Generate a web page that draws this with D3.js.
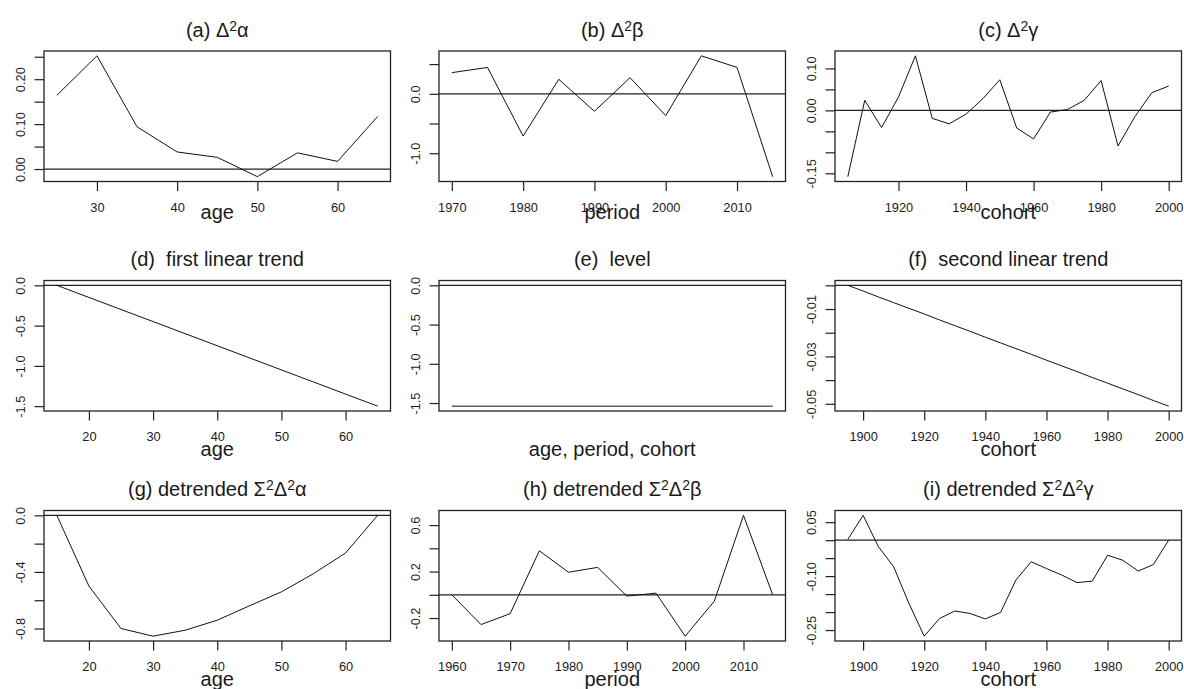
<!DOCTYPE html>
<html>
<head>
<meta charset="utf-8">
<script src="https://cdn.jsdelivr.net/npm/d3@7"></script>
<style>
  html, body { margin: 0; padding: 0; background: #fff; }
  svg { display: block; }
  text { font-family: "Liberation Sans", Arial, sans-serif; fill: #1a1a1a; }
</style>
</head>
<body>
<script>
// ---- data --------------------------------------------------------------
const ageShort   = [25, 30, 35, 40, 45, 50, 55, 60, 65];
const d2Alpha    = [0.164, 0.252, 0.094, 0.038, 0.026, -0.017, 0.036, 0.017, 0.117];

const periodShort = [1970, 1975, 1980, 1985, 1990, 1995, 2000, 2005, 2010, 2015];
const d2Beta      = [0.356, 0.444, -0.711, 0.244, -0.294, 0.272, -0.367, 0.639, 0.444, -1.394];

const cohortShort = [1905, 1910, 1915, 1920, 1925, 1930, 1935, 1940, 1945, 1950,
                     1955, 1960, 1965, 1970, 1975, 1980, 1985, 1990, 1995, 2000];
const d2Gamma     = [-0.158, 0.024, -0.041, 0.032, 0.130, -0.019, -0.032, -0.009, 0.028, 0.073,
                     -0.042, -0.068, -0.004, 0.002, 0.024, 0.071, -0.085, -0.015, 0.042, 0.058];

const ageFull     = [15, 20, 25, 30, 35, 40, 45, 50, 55, 60, 65];
const firstTrend  = [0, -0.15, -0.30, -0.45, -0.60, -0.75, -0.90, -1.05, -1.20, -1.35, -1.50];

const levelIndex  = [1, 2];
const levelValue  = [-1.54, -1.54];

const cohortFull  = [1895, 1900, 1905, 1910, 1915, 1920, 1925, 1930, 1935, 1940, 1945,
                     1950, 1955, 1960, 1965, 1970, 1975, 1980, 1985, 1990, 1995, 2000];
const secondTrend = [0, -0.0024, -0.0049, -0.0073, -0.0097, -0.0121, -0.0146, -0.0170, -0.0194, -0.0219, -0.0243,
                     -0.0267, -0.0291, -0.0316, -0.0340, -0.0364, -0.0389, -0.0413, -0.0437, -0.0461, -0.0486, -0.0510];

const detAlpha    = [0, -0.50, -0.80, -0.854, -0.812, -0.741, -0.640, -0.541, -0.412, -0.266, 0];

const periodFull  = [1960, 1965, 1970, 1975, 1980, 1985, 1990, 1995, 2000, 2005, 2010, 2015];
const detBeta     = [0, -0.256, -0.162, 0.379, 0.194, 0.236, -0.011, 0.014, -0.356, -0.054, 0.684, 0];

const detGamma    = [0.002, 0.069, -0.018, -0.074, -0.176, -0.267, -0.218, -0.197, -0.204, -0.219, -0.201,
                     -0.111, -0.060, -0.079, -0.097, -0.118, -0.114, -0.042, -0.056, -0.086, -0.068, 0];

// ---- tick values and labels (empty label = unlabelled tick) -------------
const xTicksAgeA   = [30, 40, 50, 60];
const xTicksAge    = [20, 30, 40, 50, 60];
const xTicksPerB   = [1970, 1980, 1990, 2000, 2010];
const xTicksPerH   = [1960, 1970, 1980, 1990, 2000, 2010];
const xTicksCohC   = [1920, 1940, 1960, 1980, 2000];
const xTicksCoh    = [1900, 1920, 1940, 1960, 1980, 2000];

const yTicksA  = [0, 0.05, 0.10, 0.15, 0.20, 0.25];
const yLabelsA = ["0.00", "", "0.10", "", "0.20", ""];
const yTicksB  = [-1.0, -0.5, 0, 0.5];
const yLabelsB = ["-1.0", "", "0.0", ""];
const yTicksC  = [-0.15, -0.10, -0.05, 0, 0.05, 0.10];
const yLabelsC = ["-0.15", "", "", "0.00", "", "0.10"];
const yTicksD  = [-1.5, -1.0, -0.5, 0];
const yLabelsD = ["-1.5", "-1.0", "-0.5", "0.0"];
const yTicksF  = [-0.05, -0.04, -0.03, -0.02, -0.01, 0];
const yLabelsF = ["-0.05", "", "-0.03", "", "-0.01", ""];
const yTicksG  = [-0.8, -0.6, -0.4, -0.2, 0];
const yLabelsG = ["-0.8", "", "-0.4", "", "0.0"];
const yTicksH  = [-0.2, 0, 0.2, 0.4, 0.6];
const yLabelsH = ["-0.2", "", "0.2", "", "0.6"];
const yTicksI  = [-0.25, -0.20, -0.15, -0.10, -0.05, 0, 0.05];
const yLabelsI = ["-0.25", "", "", "-0.10", "", "", "0.05"];

// ---- layout -------------------------------------------------------------
const W = 1184, H = 689;
const colLeft = [44, 439, 835];
const rowTop  = [51, 280.5, 510.5];
const boxW = 346.5, boxH = 130.5;
const xlabGap = [37, 45, 45];   // baseline of axis title below the box, per row

// title pieces: [text, superscript?]
const panels = [
  { row: 0, col: 0, title: [["(a) Δ"], ["2", true], ["α"]], x: ageShort, y: d2Alpha,
    xTicks: xTicksAgeA, yTicks: yTicksA, yLabels: yLabelsA, xlab: "age" },
  { row: 0, col: 1, title: [["(b) Δ"], ["2", true], ["β"]], x: periodShort, y: d2Beta,
    xTicks: xTicksPerB, yTicks: yTicksB, yLabels: yLabelsB, xlab: "period" },
  { row: 0, col: 2, title: [["(c) Δ"], ["2", true], ["γ"]], x: cohortShort, y: d2Gamma,
    xTicks: xTicksCohC, yTicks: yTicksC, yLabels: yLabelsC, xlab: "cohort" },
  { row: 1, col: 0, title: [["(d)  first linear trend"]], x: ageFull, y: firstTrend,
    xTicks: xTicksAge, yTicks: yTicksD, yLabels: yLabelsD, xlab: "age" },
  { row: 1, col: 1, title: [["(e)  level"]], x: levelIndex, y: levelValue,
    xTicks: [], yTicks: yTicksD, yLabels: yLabelsD, xlab: "age, period, cohort" },
  { row: 1, col: 2, title: [["(f)  second linear trend"]], x: cohortFull, y: secondTrend,
    xTicks: xTicksCoh, yTicks: yTicksF, yLabels: yLabelsF, xlab: "cohort" },
  { row: 2, col: 0, title: [["(g) detrended Σ"], ["2", true], ["Δ"], ["2", true], ["α"]], x: ageFull, y: detAlpha,
    xTicks: xTicksAge, yTicks: yTicksG, yLabels: yLabelsG, xlab: "age" },
  { row: 2, col: 1, title: [["(h) detrended Σ"], ["2", true], ["Δ"], ["2", true], ["β"]], x: periodFull, y: detBeta,
    xTicks: xTicksPerH, yTicks: yTicksH, yLabels: yLabelsH, xlab: "period" },
  { row: 2, col: 2, title: [["(i) detrended Σ"], ["2", true], ["Δ"], ["2", true], ["γ"]], x: cohortFull, y: detGamma,
    xTicks: xTicksCoh, yTicks: yTicksI, yLabels: yLabelsI, xlab: "cohort" }
];

const svg = d3.select("body").append("svg")
  .attr("width", W).attr("height", H)
  .attr("viewBox", `0 0 ${W} ${H}`);

const ink = "#222";

// R-style axis range: data extent widened by 4% on each side
function padded(ext) {
  const pad = (ext[1] - ext[0]) * 0.04;
  return [ext[0] - pad, ext[1] + pad];
}

panels.forEach(p => {
  const left = colLeft[p.col], top = rowTop[p.row];
  const bottom = top + boxH, right = left + boxW;

  const x = d3.scaleLinear().domain(padded(d3.extent(p.x))).range([left, right]);
  const y = d3.scaleLinear().domain(padded(d3.extent(p.y.concat([0])))).range([bottom, top]);

  const g = svg.append("g");

  // y axis: ticks with labels parallel to the axis
  const yAxis = g.append("g")
    .attr("transform", `translate(${left},0)`)
    .call(d3.axisLeft(y).tickValues(p.yTicks).tickSize(9.5).tickFormat((d, i) => p.yLabels[i]));
  yAxis.select(".domain").remove();
  yAxis.selectAll(".tick line").attr("stroke", ink).attr("stroke-width", 1.2);
  yAxis.selectAll(".tick text")
    .attr("x", null).attr("dy", null)
    .attr("text-anchor", "middle")
    .attr("transform", "translate(-19.5,0) rotate(-90)")
    .attr("font-size", 12.8)
    .attr("font-family", null)
    .attr("fill", "#1a1a1a");

  // x axis
  if (p.xTicks.length) {
    const xAxis = g.append("g")
      .attr("transform", `translate(0,${bottom})`)
      .call(d3.axisBottom(x).tickValues(p.xTicks).tickSize(9.5).tickFormat(d3.format("d")));
    xAxis.select(".domain").remove();
    xAxis.selectAll(".tick line").attr("stroke", ink).attr("stroke-width", 1.2);
    xAxis.selectAll(".tick text")
      .attr("y", 30).attr("dy", null)
      .attr("font-size", 12.8)
      .attr("font-family", null)
      .attr("fill", "#1a1a1a");
  }

  // reference line at zero
  g.append("line")
    .attr("x1", left).attr("x2", right)
    .attr("y1", y(0)).attr("y2", y(0))
    .attr("stroke", ink).attr("stroke-width", 1.2);

  // series
  g.append("path")
    .datum(p.x.map((v, i) => [v, p.y[i]]))
    .attr("fill", "none")
    .attr("stroke", "#111")
    .attr("stroke-width", 1)
    .attr("d", d3.line().x(d => x(d[0])).y(d => y(d[1])));

  // plot box
  g.append("rect")
    .attr("x", left).attr("y", top)
    .attr("width", boxW).attr("height", boxH)
    .attr("fill", "none").attr("stroke", ink).attr("stroke-width", 1.3);

  // title with superscripts
  const t = g.append("text")
    .attr("x", (left + right) / 2)
    .attr("y", top - 14.5)
    .attr("text-anchor", "middle")
    .attr("font-size", 20)
    .style("white-space", "pre");
  let raised = false;
  p.title.forEach(([s, sup]) => {
    const span = t.append("tspan").text(s);
    if (sup && !raised) { span.attr("dy", -6).attr("font-size", 14); raised = true; }
    else if (sup) { span.attr("font-size", 14); }
    else if (raised) { span.attr("dy", 6); raised = false; }
  });

  // axis title
  g.append("text")
    .attr("x", (left + right) / 2)
    .attr("y", bottom + xlabGap[p.row])
    .attr("text-anchor", "middle")
    .attr("font-size", 20)
    .text(p.xlab);
});
</script>
</body>
</html>
